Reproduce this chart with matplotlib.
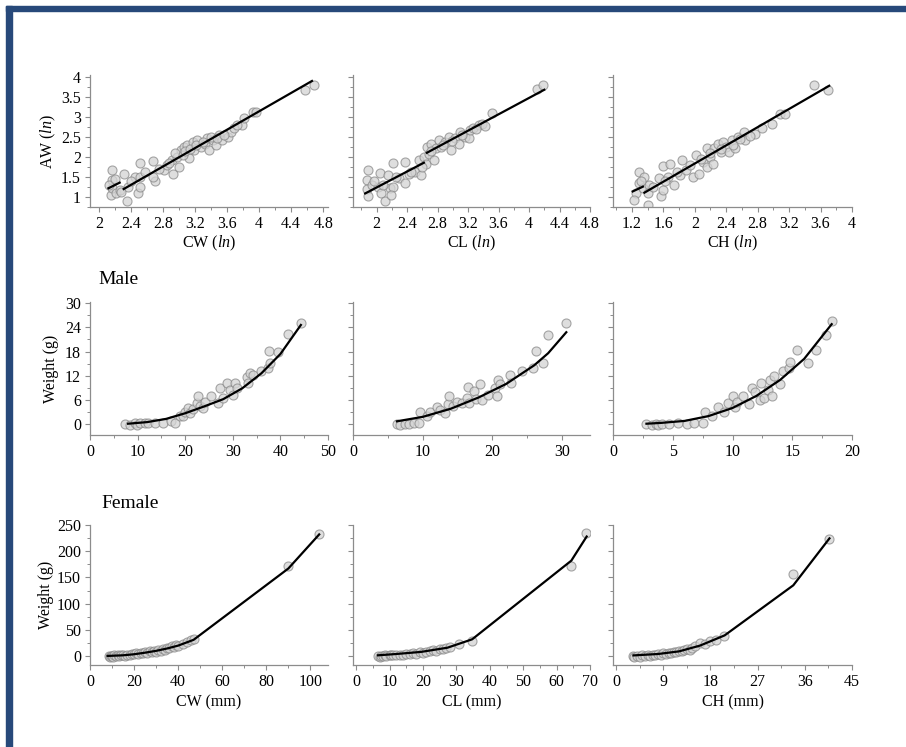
import matplotlib
matplotlib.use("Agg")
import matplotlib.pyplot as plt
from matplotlib.ticker import MultipleLocator
from matplotlib.patches import Rectangle

plt.rcParams['font.family'] = ['Liberation Serif', 'DejaVu Serif']
plt.rcParams['mathtext.fontset'] = 'custom'
plt.rcParams['mathtext.it'] = 'Liberation Serif:italic'
plt.rcParams['mathtext.rm'] = 'Liberation Serif'

# ---- top row: ln(AW) against ln(CW), ln(CL), ln(CH) ----
ln_cw = [2.16, 2.16, 2.15, 2.16, 2.22, 2.26, 2.31, 2.35, 2.37, 2.45, 2.49, 2.52, 2.52,
         2.52, 2.67, 2.70, 2.68, 2.81, 2.85, 2.91, 2.93, 2.98, 3.00, 3.02, 3.06, 3.10,
         3.12, 3.17, 3.19, 3.23, 3.27, 3.33, 3.35, 3.37, 3.42, 3.46, 3.50, 3.54, 3.61,
         3.65, 3.69, 3.79, 3.81, 3.92, 3.96, 4.57, 4.68,
         2.13, 2.20, 2.28, 2.40, 2.58, 2.75, 2.88, 2.95, 3.05, 3.08, 3.14, 3.21, 3.30,
         3.40, 3.48, 3.56, 3.72]
ln_aw_cw = [1.68, 1.42, 1.04, 1.21, 1.08, 1.17, 1.58, 0.88, 1.25, 1.50, 1.08, 1.25, 1.85,
            1.50, 1.89, 1.38, 1.50, 1.67, 1.79, 1.92, 1.58, 2.00, 1.75, 2.17, 2.25, 2.29,
            1.96, 2.38, 2.17, 2.42, 2.25, 2.33, 2.46, 2.17, 2.42, 2.29, 2.54, 2.42, 2.50,
            2.62, 2.71, 2.79, 2.98, 3.12, 3.12, 3.68, 3.79,
            1.30, 1.45, 1.12, 1.40, 1.62, 1.70, 1.85, 2.10, 2.05, 2.15, 2.20, 2.30, 2.36,
            2.50, 2.46, 2.55, 2.80]
fit_cw_x = [[2.12, 2.26], [2.31, 4.66]]
fit_cw_y = [[1.21, 1.35], [1.19, 3.90]]

ln_cl = [1.89, 1.88, 1.87, 1.89, 1.94, 2.04, 2.02, 2.06, 2.11, 2.15, 2.17, 2.22, 2.22,
         2.19, 2.30, 2.37, 2.37, 2.43, 2.50, 2.56, 2.58, 2.62, 2.65, 2.66, 2.69, 2.71,
         2.75, 2.78, 2.82, 2.84, 2.90, 2.95, 2.97, 3.03, 3.08, 3.10, 3.16, 3.21, 3.23,
         3.27, 3.34, 3.38, 3.52, 4.11, 4.18,
         1.97, 2.08, 2.25, 2.45, 2.60, 2.72, 2.87, 2.99, 3.12, 3.30, 3.42]
ln_aw_cl = [1.68, 1.42, 1.18, 1.02, 1.29, 1.60, 1.25, 1.10, 0.88, 1.54, 1.21, 1.25, 1.85,
            1.04, 1.46, 1.88, 1.33, 1.58, 1.63, 1.92, 1.54, 2.00, 1.83, 2.25, 2.08, 2.33,
            1.92, 2.21, 2.42, 2.25, 2.38, 2.50, 2.17, 2.46, 2.33, 2.62, 2.50, 2.46, 2.67,
            2.71, 2.79, 2.83, 3.10, 3.71, 3.79,
            1.38, 1.30, 1.50, 1.62, 1.75, 2.15, 2.30, 2.40, 2.55, 2.70, 2.78]
fit_cl_x = [[1.85, 2.62], [2.66, 4.20]]
fit_cl_y = [[1.08, 1.85], [2.10, 3.68]]

ln_ch = [1.25, 1.23, 1.29, 1.29, 1.34, 1.36, 1.40, 1.42, 1.40, 1.55, 1.57, 1.60, 1.60,
         1.68, 1.66, 1.74, 1.81, 1.84, 1.89, 1.98, 2.02, 2.06, 2.10, 2.15, 2.15, 2.19,
         2.23, 2.25, 2.30, 2.34, 2.36, 2.40, 2.44, 2.47, 2.51, 2.55, 2.62, 2.64, 2.76,
         2.85, 2.98, 3.08, 3.15, 3.52, 3.70,
         1.32, 1.47, 1.62, 1.78, 1.94, 2.08, 2.20, 2.33, 2.48, 2.58, 2.70]
ln_aw_ch = [1.10, 0.92, 1.63, 1.33, 1.21, 1.50, 0.79, 1.29, 1.10, 1.46, 1.02, 1.17, 1.77,
            1.81, 1.48, 1.29, 1.54, 1.92, 1.67, 1.50, 2.04, 1.58, 1.88, 1.75, 2.23, 2.00,
            1.83, 2.21, 2.33, 2.13, 2.38, 2.25, 2.13, 2.42, 2.21, 2.50, 2.62, 2.42, 2.58,
            2.71, 2.83, 3.08, 3.08, 3.79, 3.68,
            1.40, 1.25, 1.40, 1.62, 1.80, 1.95, 2.10, 2.20, 2.30, 2.45, 2.52]
fit_ch_x = [[1.21, 1.34], [1.36, 3.71]]
fit_ch_y = [[1.13, 1.25], [1.10, 3.78]]

# ---- middle row: male weight against CW, CL, CH ----
m_cw = [7.3, 8.4, 9.4, 9.8, 10.5, 11.5, 12.2, 13.6, 15.4, 17.1, 17.8, 18.9, 19.6, 20.0,
        20.6, 21.0, 21.7, 22.4, 22.7, 23.1, 23.8, 24.1, 25.5, 26.9, 27.3, 28.0, 28.7,
        29.4, 30.1, 30.4, 30.8, 32.9, 33.2, 33.6, 34.3, 36.0, 37.4, 37.6, 37.8, 39.5,
        41.6, 44.3]
m_w_cw = [0.0, -0.2, 0.2, -0.2, 0.2, 0.2, 0.4, 0.2, 0.4, 0.7, 0.4, 1.9, 2.1, 3.1, 4.1,
          2.7, 3.7, 5.2, 7.0, 4.5, 4.0, 5.6, 6.9, 5.2, 8.9, 6.4, 10.2, 8.5, 7.3, 10.2, 8.9,
          11.8, 10.2, 12.6, 12.2, 13.1, 13.9, 18.2, 15.1, 18.0, 22.4, 25.2]
m_fit_cw_x = [8, 12, 16, 20, 24, 28, 32, 36, 40, 44.3]
m_fit_cw_y = [0.1, 0.5, 1.3, 2.7, 4.4, 6.2, 8.9, 12.6, 17.4, 24.6]

m_cl = [6.3, 6.8, 7.5, 8.0, 8.7, 9.4, 9.6, 10.6, 11.1, 12.0, 12.5, 13.2, 13.7, 13.8,
        14.4, 14.9, 15.6, 16.3, 16.5, 16.7, 17.3, 17.7, 18.2, 18.5, 19.4, 20.4, 20.6,
        20.8, 21.1, 22.5, 22.7, 24.2, 25.8, 26.3, 27.3, 28.0, 30.6]
m_w_cl = [0.0, -0.2, 0.1, 0.0, 0.2, 0.4, 2.9, 1.9, 3.1, 4.2, 3.6, 2.7, 5.0, 7.0, 4.4, 5.6,
          5.2, 6.6, 9.2, 5.2, 8.1, 6.2, 10.0, 6.0, 7.3, 8.9, 7.0, 11.0, 9.9, 12.2, 10.2,
          13.1, 14.0, 18.2, 15.1, 22.1, 25.2]
m_fit_cl_x = [6.3, 10, 14, 18, 22, 26, 28, 30.6]
m_fit_cl_y = [0.7, 1.8, 3.8, 6.6, 10.0, 14.6, 17.6, 22.8]

m_ch = [2.8, 3.3, 3.6, 3.8, 4.1, 4.7, 5.4, 6.2, 6.8, 7.5, 7.7, 8.3, 8.8, 9.3, 9.6, 10.0,
        10.2, 10.4, 10.9, 11.4, 11.6, 11.9, 12.3, 12.4, 12.6, 13.0, 13.1, 13.3, 13.5,
        14.0, 14.2, 14.7, 14.8, 15.4, 16.3, 17.0, 17.8, 18.3]
m_w_ch = [0.1, -0.2, 0.0, -0.2, 0.1, 0.1, 0.2, 0.1, 0.2, 0.2, 3.1, 1.9, 4.2, 3.1, 5.2,
          7.0, 4.2, 5.6, 6.9, 5.0, 8.9, 7.9, 6.0, 10.2, 6.4, 8.5, 11.0, 7.0, 12.0, 10.0,
          13.1, 13.9, 15.3, 18.3, 15.1, 18.3, 22.1, 25.5]
m_fit_ch_x = [2.8, 4, 6, 8, 10, 12, 14, 16, 18.3]
m_fit_ch_y = [0.1, 0.3, 0.8, 2.0, 4.0, 7.0, 11.0, 16.2, 24.8]

# ---- bottom row: female weight against CW, CL, CH ----
f_cw = [8.5, 9, 9.5, 10, 10.5, 11, 12, 12.5, 13, 14, 15, 16, 17, 18, 19, 20, 21, 22, 23,
        24, 25, 26, 27, 28, 29, 30, 31, 32, 33, 34, 35, 36, 37, 38, 39, 40, 42, 44, 46,
        47, 90, 104]
f_w_cw = [0.2, -1.5, 1.0, 0.5, -0.8, 1.2, 0.8, 2.0, 0.5, 1.5, 2.2, 1.0, 3.0, 2.0, 4.0,
          3.2, 5.0, 3.5, 6.2, 5.0, 7.0, 6.0, 9.0, 7.5, 10.5, 8.5, 12.0, 10.0, 14.0, 12.0,
          16.0, 14.5, 18.5, 17.0, 21.0, 20.0, 24.0, 26.0, 30.0, 33.0, 172, 233]
f_fit_cw_x = [8, 15, 20, 25, 30, 35, 40, 47, 90, 104]
f_fit_cw_y = [0.3, 1.5, 3.5, 6.5, 10, 14.5, 20, 31, 167, 232]

f_cl = [6.5, 7, 7.5, 8, 8.5, 9, 10, 10.5, 11, 12, 13, 14, 15, 16, 17, 18, 19, 20, 21, 22,
        23, 24, 25, 26, 27, 28, 30.8, 34.7, 64.4, 68.8]
f_w_cl = [0.5, -1.0, 1.0, 0.2, 1.5, 0.8, 1.2, 2.5, 1.8, 2.0, 3.0, 2.5, 4.0, 3.5, 5.5,
          4.5, 7.0, 6.0, 8.5, 9.0, 11.0, 10.0, 13.0, 14.0, 16.0, 17.0, 23.5, 29.0, 171,
          235]
f_fit_cl_x = [6.5, 12, 19.4, 27.3, 34.7, 64.4, 69]
f_fit_cl_y = [1.5, 4, 8, 16, 32, 182, 228]

f_ch = [3.2, 3.5, 4, 4.5, 5, 5.5, 6, 6.5, 7, 7.5, 8, 8.5, 9, 9.5, 10, 10.5, 11, 11.5, 12,
        12.5, 13, 13.5, 14, 14.5, 15, 16, 17, 18, 19, 20.5, 33.8, 40.7]
f_w_ch = [0.5, -2.0, 1.0, -1.0, 1.5, 0.0, 2.0, 0.5, 3.0, 1.5, 4.0, 2.5, 5.0, 3.5, 6.5,
          5.0, 8.0, 7.0, 10.0, 9.0, 11.5, 13.0, 12.0, 15.0, 20.0, 25.0, 24.0, 28.0, 30.0,
          38.0, 157.5, 222.6]
f_fit_ch_x = [3.3, 8, 12, 16, 20.7, 33.8, 40.7]
f_fit_ch_y = [1.3, 4, 9, 20, 39.5, 135, 224.5]

W, H = 906, 747
fig = plt.figure(figsize=(W / 100, H / 100), dpi=100)

# frame along the left and top edges
fig.patches.append(Rectangle((6 / W, 0), 6 / W, 1 - 6 / H, transform=fig.transFigure,
                             color='#27497a', zorder=0))
fig.patches.append(Rectangle((6 / W, 1 - 11 / H), 1, 5 / H, transform=fig.transFigure,
                             color='#27497a', zorder=0))


def add_ax(left, right, top, bottom):
    return fig.add_axes([left / W, 1 - bottom / H, (right - left) / W, (bottom - top) / H])


def style(ax, xlim, ylim, xmaj, xmin, ymaj, ymin, ylabels=True):
    ax.set_xlim(*xlim)
    ax.set_ylim(*ylim)
    for s in ['top', 'right']:
        ax.spines[s].set_visible(False)
    for s in ['left', 'bottom']:
        ax.spines[s].set_color('#8c8c8c')
        ax.spines[s].set_linewidth(0.9)
    ax.xaxis.set_major_locator(MultipleLocator(xmaj))
    ax.xaxis.set_minor_locator(MultipleLocator(xmin))
    ax.yaxis.set_major_locator(MultipleLocator(ymaj))
    ax.yaxis.set_minor_locator(MultipleLocator(ymin))
    ax.tick_params(which='major', length=3.5, width=0.8, color='#8c8c8c',
                   labelsize=11.5, pad=3)
    ax.tick_params(which='minor', length=2, width=0.7, color='#8c8c8c')
    if not ylabels:
        ax.tick_params(axis='y', labelleft=False)
    ax.patch.set_alpha(0)


def scatter(ax, x, y):
    ax.plot(x, y, 'o', ms=6.5, mfc='#d4d4d4', mec='#8a8a8a', mew=0.8, alpha=0.75,
            ls='none', zorder=2)


def fmt_num(ax):
    ax.xaxis.set_major_formatter(plt.FuncFormatter(lambda v, p: f'{v:g}'))
    ax.yaxis.set_major_formatter(plt.FuncFormatter(lambda v, p: f'{v:g}'))


cols = [(90, 328), (353, 590), (613, 852)]

# top row
top = [(ln_cw, ln_aw_cw, fit_cw_x, fit_cw_y, (1.89, 4.86), r'CW ($\mathit{ln}$)'),
       (ln_cl, ln_aw_cl, fit_cl_x, fit_cl_y, (1.69, 4.8), r'CL ($\mathit{ln}$)'),
       (ln_ch, ln_aw_ch, fit_ch_x, fit_ch_y, (0.96, 4.0), r'CH ($\mathit{ln}$)')]
for i, (x, y, fx, fy, xlim, xl) in enumerate(top):
    ax = add_ax(cols[i][0], cols[i][1], 75, 207)
    scatter(ax, x, y)
    for sx, sy in zip(fx, fy):
        ax.plot(sx, sy, color='black', lw=1.6, zorder=3)
    style(ax, xlim, (0.74, 4.05), 0.4, 0.2, 0.5, 0.25, ylabels=(i == 0))
    fmt_num(ax)
    ax.set_xlabel(xl, fontsize=11.5, labelpad=1)
    if i == 0:
        ax.set_ylabel(r'AW ($\mathit{ln}$)', fontsize=11.5, labelpad=2)

# middle row: males
mid = [(m_cw, m_w_cw, m_fit_cw_x, m_fit_cw_y, (0, 50), 10, 5),
       (m_cl, m_w_cl, m_fit_cl_x, m_fit_cl_y, (0, 34), 10, 5),
       (m_ch, m_w_ch, m_fit_ch_x, m_fit_ch_y, (0, 20), 5, 2.5)]
for i, (x, y, fx, fy, xlim, xmaj, xmin) in enumerate(mid):
    ax = add_ax(cols[i][0], cols[i][1], 302, 435)
    scatter(ax, x, y)
    ax.plot(fx, fy, color='black', lw=1.6, zorder=3)
    style(ax, xlim, (-2.7, 30.3), xmaj, xmin, 6, 3, ylabels=(i == 0))
    fmt_num(ax)
    if i == 0:
        ax.set_ylabel('Weight (g)', fontsize=11.5, labelpad=4)
        ax.text(0.12, 1.17, 'Male', transform=ax.transAxes, fontsize=14,
                ha='center', va='center')

# bottom row: females
bot = [(f_cw, f_w_cw, f_fit_cw_x, f_fit_cw_y, (0, 108), 20, 10, 'CW (mm)'),
       (f_cl, f_w_cl, f_fit_cl_x, f_fit_cl_y, (-1, 70), 10, 5, 'CL (mm)'),
       (f_ch, f_w_ch, f_fit_ch_x, f_fit_ch_y, (-0.6, 45), 9, 4.5, 'CH (mm)')]
for i, (x, y, fx, fy, xlim, xmaj, xmin, xl) in enumerate(bot):
    ax = add_ax(cols[i][0], cols[i][1], 525, 665)
    scatter(ax, x, y)
    ax.plot(fx, fy, color='black', lw=1.6, zorder=3)
    style(ax, xlim, (-17, 250), xmaj, xmin, 50, 25, ylabels=(i == 0))
    fmt_num(ax)
    ax.set_xlabel(xl, fontsize=11.5, labelpad=3)
    if i == 0:
        ax.set_ylabel('Weight (g)', fontsize=11.5, labelpad=2)
        ax.text(0.17, 1.15, 'Female', transform=ax.transAxes, fontsize=14,
                ha='center', va='center')

fig.savefig('out.png', dpi=100, facecolor='white')
